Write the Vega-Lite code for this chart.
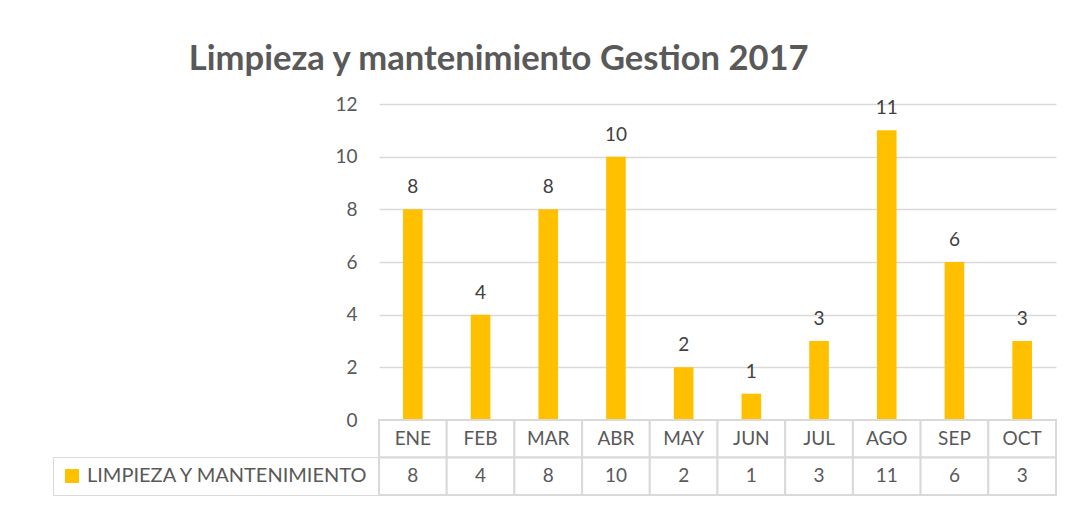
{
  "$schema": "https://vega.github.io/schema/vega-lite/v6.json",
  "padding": {"left": 52, "top": 42, "right": 10, "bottom": 5},
  "background": "white",
  "bounds": "flush",
  "config": {
    "font": "Lato",
    "view": {"stroke": null},
    "concat": {"spacing": 0},
    "text": {"font": "Lato", "fontSize": 19, "fill": "#595959"}
  },
  "title": {
    "text": "Limpieza y mantenimiento Gestion 2017",
    "font": "Lato",
    "fontSize": 34.6,
    "fontWeight": "bold",
    "color": "#595959",
    "anchor": "middle",
    "frame": "bounds",
    "dx": -56,
    "offset": 17
  },
  "datasets": {
    "d": [
      {"mes": "ENE", "valor": 8},
      {"mes": "FEB", "valor": 4},
      {"mes": "MAR", "valor": 8},
      {"mes": "ABR", "valor": 10},
      {"mes": "MAY", "valor": 2},
      {"mes": "JUN", "valor": 1},
      {"mes": "JUL", "valor": 3},
      {"mes": "AGO", "valor": 11},
      {"mes": "SEP", "valor": 6},
      {"mes": "OCT", "valor": 3}
    ]
  },
  "vconcat": [
    {
      "width": 677,
      "height": 316,
      "data": {"name": "d"},
      "encoding": {
        "x": {"field": "mes", "type": "nominal", "sort": null, "scale": {"paddingInner": 0, "paddingOuter": 0}, "axis": null},
        "y": {
          "field": "valor", "type": "quantitative",
          "scale": {"domain": [0, 12], "nice": false},
          "axis": {
            "title": null, "values": [0, 2, 4, 6, 8, 10, 12], "domain": false, "ticks": false,
            "grid": true, "gridColor": "#d9d9d9", "gridWidth": 1.5,
            "labelFont": "Lato", "labelFontSize": 19, "labelColor": "#595959", "labelPadding": 22
          }
        }
      },
      "layer": [
        {
          "mark": {"type": "bar", "width": {"band": 0.29}},
          "encoding": {
            "color": {
              "datum": "LIMPIEZA Y MANTENIMIENTO", "type": "nominal",
              "scale": {"range": ["#FFC000"]},
              "legend": {
                "title": null, "orient": "none", "legendX": -326, "legendY": 353,
                "symbolType": "square", "symbolSize": 196, "symbolStrokeWidth": 0,
                "labelFont": "Lato", "labelFontSize": 20, "labelColor": "#595959", "labelLimit": 0, "labelOffset": 5,
                "padding": 9, "strokeColor": "#d9d9d9", "fillColor": "white"
              }
            }
          }
        },
        {
          "mark": {"type": "text", "baseline": "bottom", "dy": -12, "fontSize": 19, "fill": "#404040"},
          "encoding": {"text": {"field": "valor", "type": "quantitative"}}
        }
      ]
    },
    {
      "width": 677,
      "height": 75,
      "data": {"name": "d"},
      "encoding": {
        "x": {"field": "mes", "type": "nominal", "sort": null, "scale": {"paddingInner": 0, "paddingOuter": 0}, "axis": null}
      },
      "layer": [
        {
          "mark": {"type": "rect", "fill": "white", "stroke": "#d9d9d9", "strokeWidth": 2},
          "encoding": {"y": {"datum": "cat", "type": "nominal", "scale": {"domain": ["cat", "val"], "paddingInner": 0, "paddingOuter": 0}, "axis": null}}
        },
        {
          "mark": {"type": "rect", "fill": "white", "stroke": "#d9d9d9", "strokeWidth": 2},
          "encoding": {"y": {"datum": "val", "type": "nominal"}}
        },
        {
          "mark": {"type": "text", "fontSize": 19, "fill": "#595959"},
          "encoding": {"y": {"datum": "cat", "type": "nominal"}, "text": {"field": "mes"}}
        },
        {
          "mark": {"type": "text", "fontSize": 19, "fill": "#595959"},
          "encoding": {"y": {"datum": "val", "type": "nominal"}, "text": {"field": "valor", "type": "quantitative"}}
        }
      ]
    }
  ]
}
